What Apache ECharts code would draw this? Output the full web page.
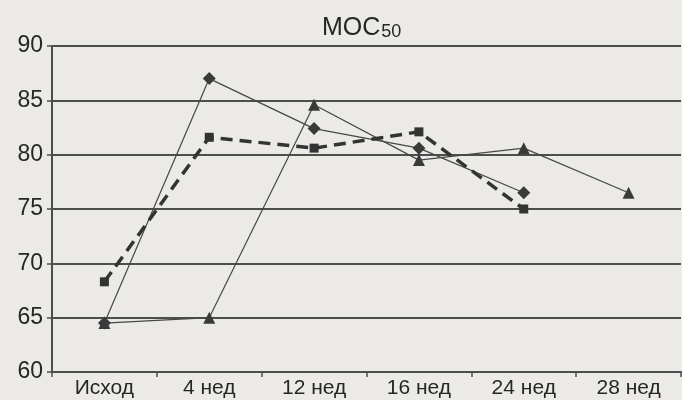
<!DOCTYPE html>
<html><head><meta charset="utf-8">
<script src="https://cdn.jsdelivr.net/npm/echarts@6/dist/echarts.min.js"></script>
<style>html,body{margin:0;padding:0;background:#ebeae6;}#c{width:682px;height:400px;}</style>
</head><body><div id="c"></div>
<script>
const categories = ['Исход', '4 нед', '12 нед', '16 нед', '24 нед', '28 нед'];
const diamondSeries = [64.5, 87.0, 82.4, 80.6, 76.5, null];
const triangleSeries = [64.5, 65.0, 84.6, 79.5, 80.6, 76.5];
const dashedSeries = [68.3, 81.6, 80.6, 82.1, 75.0, null];
const yTicks = {min: 60, max: 90, step: 5};

const chart = echarts.init(document.getElementById('c'), null, {renderer: 'canvas'});
const lineColor = '#474747';
const textColor = '#262626';
const font = 'Liberation Sans';
chart.setOption({
  backgroundColor: '#ebeae6',
  animation: false,
  title: {
    text: '{a|МОС}{b|50}',
    left: 317, top: 4,
    textStyle: {
      rich: {
        a: {fontSize: 25, fontFamily: font, fontWeight: 'normal', color: textColor, lineHeight: 32, verticalAlign: 'bottom'},
        b: {fontSize: 18, fontFamily: font, fontWeight: 'normal', color: textColor, lineHeight: 32, verticalAlign: 'bottom', padding: [7, 0, 0, 1]}
      }
    }
  },
  grid: {left: 52, right: 1, top: 46, bottom: 28, containLabel: false},
  xAxis: {
    type: 'category', data: categories, boundaryGap: true,
    axisLine: {lineStyle: {color: '#4d4d4d', width: 2}},
    axisTick: {show: true, length: 5, interval: 0, lineStyle: {color: '#4d4d4d', width: 1.5}},
    axisLabel: {fontSize: 21, fontFamily: font, color: textColor, margin: 6, interval: 0}
  },
  yAxis: {
    type: 'value', min: yTicks.min, max: yTicks.max, interval: yTicks.step,
    axisLine: {show: true, lineStyle: {color: '#4d4d4d', width: 2}},
    axisTick: {show: true, length: 5, lineStyle: {color: '#4d4d4d', width: 1.5}},
    axisLabel: {fontSize: 23, fontFamily: font, color: textColor, margin: 9},
    splitLine: {lineStyle: {color: '#4d4d4d', width: 1.8}}
  },
  series: [
    {type: 'line', data: diamondSeries, symbol: 'diamond', symbolSize: 13,
     lineStyle: {color: lineColor, width: 1.2}, itemStyle: {color: '#3a3a3a'}},
    {type: 'line', data: triangleSeries, symbol: 'triangle', symbolSize: 12,
     lineStyle: {color: lineColor, width: 1.2}, itemStyle: {color: '#3a3a3a'}},
    {type: 'line', data: dashedSeries, symbol: 'rect', symbolSize: 9,
     lineStyle: {color: '#333', width: 3.5, type: [12, 7]}, itemStyle: {color: '#333'}}
  ]
});
</script></body></html>
